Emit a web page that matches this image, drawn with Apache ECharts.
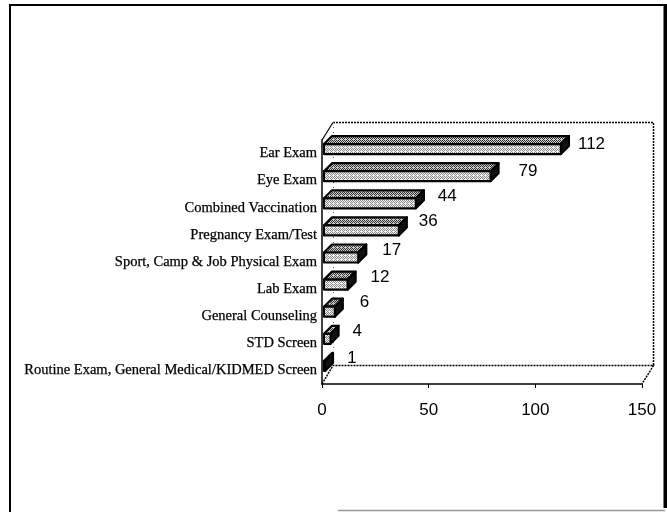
<!DOCTYPE html>
<html><head><meta charset="utf-8">
<script src="https://cdn.jsdelivr.net/npm/echarts@6/dist/echarts.min.js"></script>
<style>html,body{margin:0;padding:0;background:#fff}#c{width:667px;height:512px}</style>
</head><body><div id="c"></div>
<script>
const categories = ["Ear Exam","Eye Exam","Combined Vaccination","Pregnancy Exam/Test","Sport, Camp & Job Physical Exam","Lab Exam","General Counseling","STD Screen","Routine Exam, General Medical/KIDMED Screen"];
const values = [112,79,44,36,17,12,6,4,1];
const xTicks = [0,50,100,150];
// hand-placed data label nudges of the original, relative to the bar end / band centre
const labelGapX = [9,20,14,12,16,15,17,14,15];
const labelGapY = [-9,-9,-11,-14,-12,-12,-14,-12,-12];

function dither(dark, light){
  const c=document.createElement('canvas');c.width=4;c.height=4;
  const g=c.getContext('2d');g.fillStyle=light;g.fillRect(0,0,4,4);g.fillStyle=dark;
  [[0,0],[2,0],[1,1],[3,1],[0,2],[2,2],[3,3]].forEach(p=>g.fillRect(p[0],p[1],1,1));
  return c;
}
const frontFill={image:dither('#888','#f4f4f4'),repeat:'repeat'};
const topFill={image:dither('#333','#ccc'),repeat:'repeat'};
const DX=8,DY=8,H=10;
const chart=echarts.init(document.getElementById('c'),null,{renderer:'canvas'});
chart.setOption({
  animation:false,backgroundColor:'#fff',
  grid:{left:322,top:140,width:320,height:244,containLabel:false},
  xAxis:{type:'value',min:0,max:150,interval:50,
    axisLine:{show:true,onZero:false,lineStyle:{color:'#000',width:1.5}},
    axisTick:{show:true,length:4,lineStyle:{color:'#000'}},
    splitLine:{show:false},
    axisLabel:{color:'#000',fontFamily:'Liberation Sans',fontSize:17,margin:18,
      formatter:v=>xTicks.includes(v)?String(v):''}},
  yAxis:{type:'category',inverse:true,data:categories,
    axisLine:{show:true,lineStyle:{color:'#000',width:1.5}},
    axisTick:{show:false},
    axisLabel:{color:'#000',fontFamily:'Liberation Serif',fontSize:14.5,margin:5,interval:0,padding:[3,0,0,0],textBorderColor:'#000',textBorderWidth:0.25}},
  graphic:[
    {type:'rect',silent:true,z:0,shape:{x:10,y:5,width:654.5,height:520},style:{fill:'none',stroke:'#000',lineWidth:2}},
    {type:'rect',silent:true,z:1,shape:{x:664,y:4,width:3,height:506},style:{fill:'#000'}},
    {type:'rect',silent:true,z:1,shape:{x:11.5,y:508,width:656,height:4},style:{fill:'#fff'}},
    {type:'line',silent:true,z:1,shape:{x1:338,y1:510.5,x2:665,y2:510.5},style:{stroke:'#999',lineWidth:1.5}},
    {type:'polyline',silent:true,z:1,shape:{points:[[322,140],[333,122.5]]},style:{fill:'none',stroke:'#000',lineWidth:1.2}},
    {type:'polyline',silent:true,z:1,shape:{points:[[333,122.5],[653.5,122.5],[653.5,365.5]]},style:{fill:'none',stroke:'#000',lineWidth:1.5,lineDash:[2,1]}},
    {type:'polyline',silent:true,z:1,shape:{points:[[322,384],[333,365.5],[653.5,365.5],[642,384]]},style:{fill:'none',stroke:'#000',lineWidth:1.5,lineDash:[2,1]}},
    {type:'line',silent:true,z:1,shape:{x1:333.5,y1:122,x2:333.5,y2:365},style:{stroke:'#555',lineWidth:1,lineDash:[1,4]}}
  ],
  series:[{type:'custom',coordinateSystem:'cartesian2d',encode:{x:0,y:1},z:5,clip:false,
    data:values.map((v,i)=>[v,i]),
    renderItem(params,api){
      const v=api.value(0),i=api.value(1);
      const p=api.coord([v,i]);
      const o=api.coord([0,i]);
      const x0=o[0]+2,x1=Math.max(p[0],x0+1),b=p[1]+0.5,t=b-H;
      const st=f=>({fill:f,stroke:'#000',lineWidth:2.2,lineJoin:'round'});
      return {type:'group',children:[
        {type:'polygon',shape:{points:[[x0,t],[x0+DX,t-DY],[x1+DX,t-DY],[x1,t]]},style:st(topFill)},
        {type:'polygon',shape:{points:[[x1,t],[x1+DX,t-DY],[x1+DX,b-DY],[x1,b]]},style:st('#111')},
        {type:'polygon',shape:{points:[[x0,t],[x1,t],[x1,b],[x0,b]]},style:st(frontFill)},
        {type:'text',style:{x:p[0]+DX+labelGapX[i],y:p[1]+labelGapY[i],text:String(v),fill:'#000',font:'17px "Liberation Sans"',textAlign:'left',textVerticalAlign:'middle'}}
      ]};
    }}]
});
</script></body></html>
